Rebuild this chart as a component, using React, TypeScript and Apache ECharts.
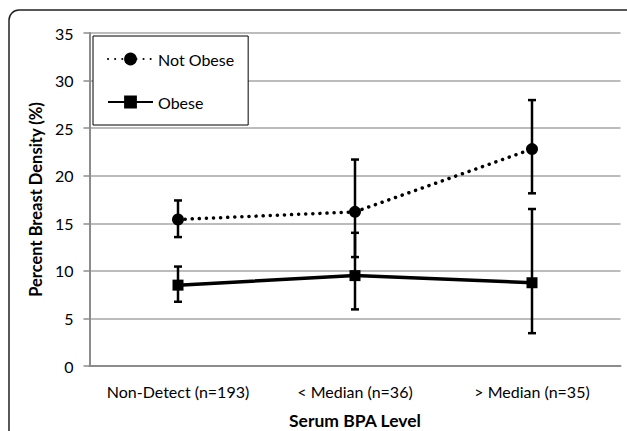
import React, { useEffect, useRef } from "react";
import * as echarts from "echarts";

const categories = ["Non-Detect (n=193)", "< Median (n=36)", "> Median (n=35)"];
const notObese = [15.4, 16.2, 22.8];
const notObeseLow = [13.55, 11.45, 18.15];
const notObeseHigh = [17.4, 21.7, 27.95];
const obese = [8.5, 9.5, 8.75];
const obeseLow = [6.75, 5.95, 3.45];
const obeseHigh = [10.45, 14.0, 16.5];
const yTicks = [0, 5, 10, 15, 20, 25, 30, 35];

const FONT = "Lato";

function errorSeries(name: string, lows: number[], highs: number[]) {
  return {
    type: "custom",
    name: name + "-err",
    z: 3,
    data: categories.map((_, i) => [i, lows[i], highs[i]]),
    renderItem: (params: any, api: any) => {
      const x = api.value(0);
      const lo = api.coord([x, api.value(1)]);
      const hi = api.coord([x, api.value(2)]);
      const cw = 4;
      const style = { stroke: "#000", lineWidth: 2.5 };
      return {
        type: "group",
        children: [
          { type: "line", shape: { x1: lo[0], y1: lo[1], x2: hi[0], y2: hi[1] }, style },
          { type: "line", shape: { x1: lo[0] - cw, y1: lo[1], x2: lo[0] + cw, y2: lo[1] }, style },
          { type: "line", shape: { x1: hi[0] - cw, y1: hi[1], x2: hi[0] + cw, y2: hi[1] }, style },
        ],
      };
    },
  };
}

export default function App() {
  const ref = useRef<HTMLDivElement>(null);
  useEffect(() => {
    if (!ref.current) return;
    const chart = echarts.init(ref.current, null, { renderer: "svg" });
    chart.setOption({
      animation: false,
      textStyle: { fontFamily: FONT },
      graphic: [
        {
          type: "rect",
          z: -10,
          shape: { x: 9, y: 10, width: 800, height: 600, r: 10 },
          style: { fill: "none", stroke: "#222", lineWidth: 1.5 },
        },
      ],
      grid: { left: 89.5, right: 6.5, top: 33, bottom: 65, outerBoundsMode: "none", containLabel: false },
      legend: {
        orient: "vertical",
        left: 93,
        top: 36,
        padding: [15, 14, 15, 14],
        itemGap: 27,
        itemWidth: 45,
        itemHeight: 16,
        borderColor: "#000",
        borderWidth: 1,
        backgroundColor: "#fff",
        textStyle: { fontFamily: FONT, fontSize: 16, color: "#000" },
        data: ["Not Obese", "Obese"],
      },
      xAxis: {
        type: "category",
        data: categories,
        boundaryGap: true,
        axisLine: { lineStyle: { color: "#8c8c8c", width: 2 } },
        axisTick: { show: false },
        axisLabel: { color: "#000", fontSize: 16, fontFamily: FONT, margin: 17, interval: 0, hideOverlap: false },
        name: "Serum BPA Level",
        nameLocation: "middle",
        nameGap: 45,
        nameTextStyle: { color: "#000", fontSize: 17.5, fontWeight: "bold", fontFamily: FONT },
      },
      yAxis: {
        type: "value",
        min: yTicks[0],
        max: yTicks[yTicks.length - 1],
        interval: 5,
        axisLine: { show: true, lineStyle: { color: "#8c8c8c", width: 2 } },
        axisTick: { show: true, length: 6, lineStyle: { color: "#8c8c8c", width: 1.5 } },
        splitLine: { lineStyle: { color: "#a6a6a6", width: 1.5 } },
        axisLabel: { color: "#000", fontSize: 16, fontFamily: FONT, margin: 16 },
        name: "Percent Breast Density (%)",
        nameLocation: "middle",
        nameGap: 38,
        nameTextStyle: { color: "#000", fontSize: 16.5, fontWeight: "bold", fontFamily: FONT },
      },
      series: [
        errorSeries("Not Obese", notObeseLow, notObeseHigh),
        errorSeries("Obese", obeseLow, obeseHigh),
        {
          type: "line",
          name: "Not Obese",
          z: 4,
          data: notObese,
          symbol: "circle",
          symbolSize: 12,
          itemStyle: { color: "#000" },
          lineStyle: { color: "#000", width: 3.5, type: [0.1, 7], cap: "round" },
        },
        {
          type: "line",
          name: "Obese",
          z: 4,
          data: obese,
          symbol: "rect",
          symbolSize: 11,
          itemStyle: { color: "#000" },
          lineStyle: { color: "#000", width: 3.5 },
        },
      ],
    });
    return () => chart.dispose();
  }, []);
  return <div ref={ref} style={{ width: 627, height: 431, position: "absolute", left: 0, top: 0 }} />;
}
